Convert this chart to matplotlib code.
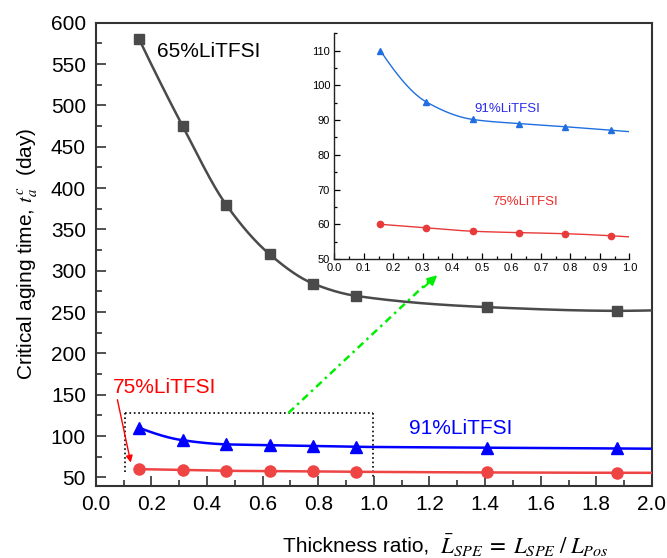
import numpy as np
import matplotlib
matplotlib.use("Agg")
import matplotlib.pyplot as plt
from matplotlib.ticker import MultipleLocator

plt.rcParams['font.family'] = ['Liberation Sans', 'DejaVu Sans']
plt.rcParams['mathtext.fontset'] = 'stix'

# ---------------- data ----------------
thickness = [0.15625, 0.3125, 0.46875, 0.625, 0.78125, 0.9375, 1.40625, 1.875]
t65 = [580, 475, 380, 320, 284.5, 269.5, 256, 251.5]
t91 = [110, 95, 90, 89, 88, 87, 86, 85]
t75 = [60, 59, 58, 57.6, 57.3, 56.8, 56.0, 55.6]

inset_x = [0.15625, 0.3125, 0.46875, 0.625, 0.78125, 0.9375]
inset_91 = [110, 95.2, 90.2, 89.0, 88.1, 87.1]
inset_75 = [60.0, 59.0, 58.0, 57.6, 57.3, 56.7]

labels = ["65%LiTFSI", "91%LiTFSI", "75%LiTFSI"]


def pchip(x, y, xn):
    x = np.asarray(x, float); y = np.asarray(y, float); xn = np.asarray(xn, float)
    n = len(x)
    h = np.diff(x); d = np.diff(y) / h
    m = np.zeros(n)
    for k in range(1, n - 1):
        if d[k - 1] * d[k] <= 0:
            m[k] = 0.0
        else:
            w1 = 2 * h[k] + h[k - 1]; w2 = h[k] + 2 * h[k - 1]
            m[k] = (w1 + w2) / (w1 / d[k - 1] + w2 / d[k])
    def endslope(h0, h1, d0, d1):
        s = ((2 * h0 + h1) * d0 - h0 * d1) / (h0 + h1)
        if np.sign(s) != np.sign(d0):
            s = 0.0
        elif np.sign(d0) != np.sign(d1) and abs(s) > abs(3 * d0):
            s = 3 * d0
        return s
    m[0] = endslope(h[0], h[1], d[0], d[1])
    m[-1] = endslope(h[-1], h[-2], d[-1], d[-2])
    idx = np.clip(np.searchsorted(x, xn) - 1, 0, n - 2)
    t = (xn - x[idx]) / h[idx]
    h00 = 2 * t**3 - 3 * t**2 + 1; h10 = t**3 - 2 * t**2 + t
    h01 = -2 * t**3 + 3 * t**2; h11 = t**3 - t**2
    return h00 * y[idx] + h10 * h[idx] * m[idx] + h01 * y[idx + 1] + h11 * h[idx] * m[idx + 1]


fig = plt.figure(figsize=(6.67, 5.58), dpi=100)
ax = fig.add_axes([0.1435, 0.1296, 0.834, 0.8297])

xs = np.linspace(thickness[0], 2.0, 400)
c65, c91, c75 = '#4a4a4a', '#0000ff', '#ee4444'
ax.plot(xs, pchip(thickness, t65, xs), color=c65, lw=1.8, zorder=3)
ax.plot(thickness, t65, 's', color=c65, ms=7.5, zorder=4)
ax.plot(xs, pchip(thickness, t91, xs), color=c91, lw=1.8, zorder=3)
ax.plot(thickness, t91, '^', color=c91, ms=8.5, zorder=4)
ax.plot(xs, pchip(thickness, t75, xs), color=c75, lw=1.8, zorder=3)
ax.plot(thickness, t75, 'o', color=c75, ms=8, zorder=4)

ax.set_xlim(0, 2.0)
ax.set_ylim(40, 600)
ax.xaxis.set_major_locator(MultipleLocator(0.2))
ax.xaxis.set_minor_locator(MultipleLocator(0.1))
ax.yaxis.set_minor_locator(MultipleLocator(25))
ax.set_yticks(np.arange(50, 601, 50))
ax.tick_params(which='major', direction='in', length=7, width=1.2, labelsize=15,
               pad=7, color='#333333')
ax.tick_params(which='minor', direction='in', length=4, width=1.2, color='#333333')
for s in ax.spines.values():
    s.set_linewidth(1.5)
    s.set_color('#333333')

ax.set_ylabel("Critical aging time, $t_a^c$  (day)", fontsize=15, labelpad=8)
fig.text(283 / 667, 1 - 546 / 558, "Thickness ratio,",
         fontsize=15, ha='left', va='center')
fig.text(440 / 667, 1 - 546 / 558,
         r"$\bar{L}_{SPE}\;=\;L_{SPE}\;/\;L_{Pos}$",
         fontsize=16.5, ha='left', va='center')

ax.text(0.219, 565, labels[0], fontsize=15, color='black', ha='left', va='center')
ax.text(1.497, 109, labels[1], fontsize=15, color='#0000ff', ha='right', va='center')
ax.text(0.063, 159, labels[2], fontsize=15, color='#ff0000', ha='left', va='center')

# red arrow
ax.annotate("", xy=(0.126, 68), xytext=(0.078, 144),
            arrowprops=dict(arrowstyle='-|>', color='#ff0000', lw=1.0,
                            mutation_scale=10, shrinkA=0, shrinkB=0))

# dotted zoom box
ax.plot([0.105, 0.105], [57, 128], ':', color='black', lw=1.2)
ax.plot([0.105, 0.996], [128, 128], ':', color='black', lw=1.2)
ax.plot([0.996, 0.996], [128, 50], ':', color='black', lw=1.2)

# green dash-dot arrow
ax.plot([0.693, 1.20], [128, 288], color='#00ee00', lw=1.8,
        linestyle=(0, (3, 1.8, 1, 1.8)))
ax.annotate("", xy=(1.228, 294.6), xytext=(1.18, 280),
            arrowprops=dict(arrowstyle='-|>', color='#00ee00', lw=1.5,
                            mutation_scale=14, shrinkA=0, shrinkB=0))

# ---------------- inset ----------------
ia = fig.add_axes([0.5012, 0.5358, 0.4423, 0.4045])
xi = np.linspace(inset_x[0], 1.0, 300)
ib, ir = '#1f6fe0', '#e83a3a'
ia.plot(xi, pchip(inset_x, inset_91, xi), color=ib, lw=1.0)
ia.plot(inset_x, inset_91, '^', color=ib, ms=5)
ia.plot(xi, pchip(inset_x, inset_75, xi), color=ir, lw=1.0)
ia.plot(inset_x, inset_75, 'o', color=ir, ms=4.5)
ia.set_xlim(0, 1.0)
ia.set_ylim(50, 115)
ia.xaxis.set_major_locator(MultipleLocator(0.1))
ia.xaxis.set_minor_locator(MultipleLocator(0.05))
ia.set_yticks(np.arange(50, 111, 10))
ia.yaxis.set_minor_locator(MultipleLocator(5))
ia.spines['top'].set_visible(False)
ia.spines['right'].set_visible(False)
for s in ('left', 'bottom'):
    ia.spines[s].set_linewidth(1.0)
    ia.spines[s].set_color('#222222')
ia.tick_params(which='major', direction='in', length=4, width=0.9, labelsize=8, pad=3)
ia.tick_params(which='minor', direction='in', length=2, width=0.9)
ia.patch.set_alpha(0)
ia.text(0.474, 93.3, labels[1], fontsize=9.5, color='#2a2aee', ha='left', va='center')
ia.text(0.535, 66.5, labels[2], fontsize=9.5, color='#ee2a2a', ha='left', va='center')

fig.savefig("out.png", dpi=100)
